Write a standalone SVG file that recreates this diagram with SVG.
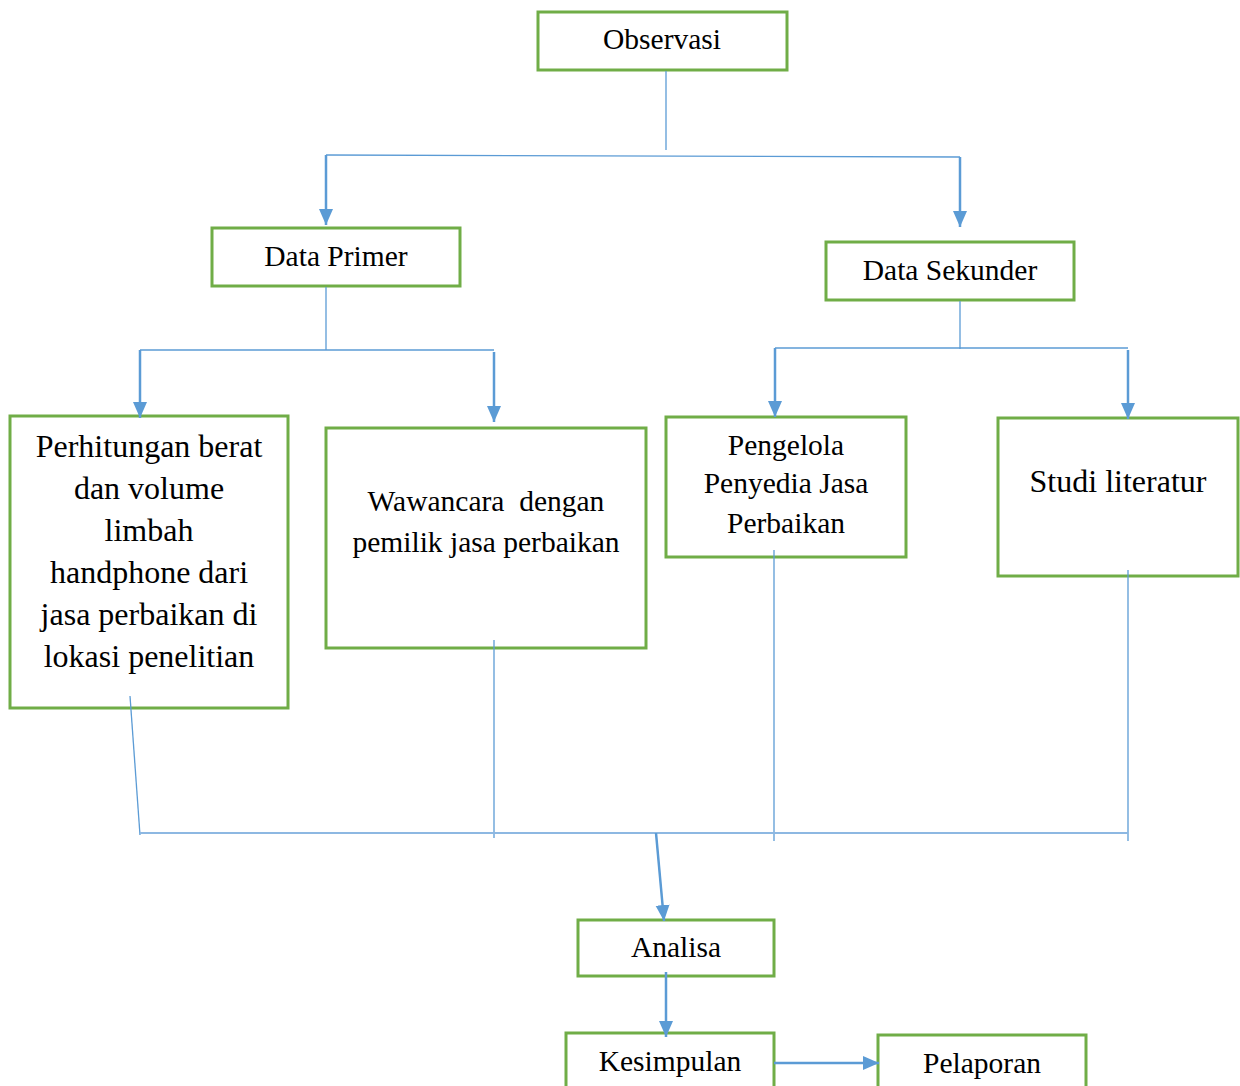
<svg xmlns="http://www.w3.org/2000/svg" width="1240" height="1086" viewBox="0 0 1240 1086">
<style>
.box{fill:#fff;stroke:#70AD47;stroke-width:3}
.t{font-family:"Liberation Serif","Times New Roman",serif;font-size:29.5px;fill:#000;text-anchor:middle}
.t28{font-size:32px}
.ln{stroke:#5B9BD5;stroke-width:1.3;fill:none}
.ar{stroke:#5B9BD5;stroke-width:2.5;fill:none;marker-end:url(#ah)}
</style>
<defs>
<marker id="ah" markerUnits="userSpaceOnUse" markerWidth="16" markerHeight="16" viewBox="0 0 16 16" refX="16" refY="8" orient="auto">
<path d="M0,1 L16,8 L0,15 Z" fill="#5B9BD5"/>
</marker>
</defs>
<rect width="1240" height="1086" fill="#fff"/>
<g id="observasi"><rect class="box" x="538" y="12" width="249" height="58"/><text class="t" x="662" y="49">Observasi</text></g>
<g id="data-primer"><rect class="box" x="212" y="228" width="248" height="58"/><text class="t" x="336" y="266">Data Primer</text></g>
<g id="data-sekunder"><rect class="box" x="826" y="242" width="248" height="58"/><text class="t" x="950" y="280">Data Sekunder</text></g>
<g id="perhitungan"><rect class="box" x="10" y="416" width="278" height="292"/>
<text class="t t28" x="149" y="457">Perhitungan berat</text>
<text class="t t28" x="149" y="499">dan volume</text>
<text class="t t28" x="149" y="541">limbah</text>
<text class="t t28" x="149" y="583">handphone dari</text>
<text class="t t28" x="149" y="625">jasa perbaikan di</text>
<text class="t t28" x="149" y="667">lokasi penelitian</text>
</g>
<g id="wawancara"><rect class="box" x="326" y="428" width="320" height="220"/>
<text class="t" x="486" y="511" xml:space="preserve">Wawancara  dengan</text>
<text class="t" x="486" y="552">pemilik jasa perbaikan</text>
</g>
<g id="pengelola"><rect class="box" x="666" y="417" width="240" height="140"/>
<text class="t" x="786" y="455">Pengelola</text>
<text class="t" x="786" y="493">Penyedia Jasa</text>
<text class="t" x="786" y="533">Perbaikan</text>
</g>
<g id="studi"><rect class="box" x="998" y="418" width="240" height="158"/>
<text class="t t28" x="1118" y="492">Studi literatur</text>
</g>
<g id="analisa"><rect class="box" x="578" y="920" width="196" height="56"/><text class="t" x="676" y="957">Analisa</text></g>
<g id="kesimpulan"><rect class="box" x="566" y="1033" width="208" height="60"/><text class="t" x="670" y="1071">Kesimpulan</text></g>
<g id="pelaporan"><rect class="box" x="878" y="1035" width="208" height="60"/><text class="t" x="982" y="1073">Pelaporan</text></g>
<g id="connectors">
<line class="ln" x1="666" y1="71" x2="666" y2="150"/>
<line class="ln" x1="326" y1="155" x2="960" y2="157"/>
<line class="ar" x1="326" y1="155" x2="326" y2="225"/>
<line class="ar" x1="960" y1="157" x2="960" y2="227"/>
<line class="ln" x1="326" y1="287" x2="326" y2="350"/>
<line class="ln" x1="140" y1="350" x2="494" y2="350"/>
<line class="ar" x1="140" y1="350" x2="140" y2="418"/>
<line class="ar" x1="494" y1="352" x2="494" y2="422"/>
<line class="ln" x1="960" y1="301" x2="960" y2="349"/>
<line class="ln" x1="775" y1="348" x2="1128" y2="348"/>
<line class="ar" x1="775" y1="348" x2="775" y2="417"/>
<line class="ar" x1="1128" y1="350" x2="1128" y2="419"/>
<line class="ln" x1="130" y1="696" x2="140" y2="835"/>
<line class="ln" x1="494" y1="640" x2="494" y2="838"/>
<line class="ln" x1="774" y1="550" x2="774" y2="841"/>
<line class="ln" x1="1128" y1="570" x2="1128" y2="841"/>
<line x1="140" y1="833" x2="1128" y2="833" stroke="#8DB8E2" stroke-width="2"/>
<line class="ar" x1="656" y1="833" x2="664" y2="921"/>
<line class="ar" x1="666" y1="972" x2="666" y2="1037"/>
<line class="ar" x1="774" y1="1063" x2="879" y2="1063"/>
</g>
</svg>
